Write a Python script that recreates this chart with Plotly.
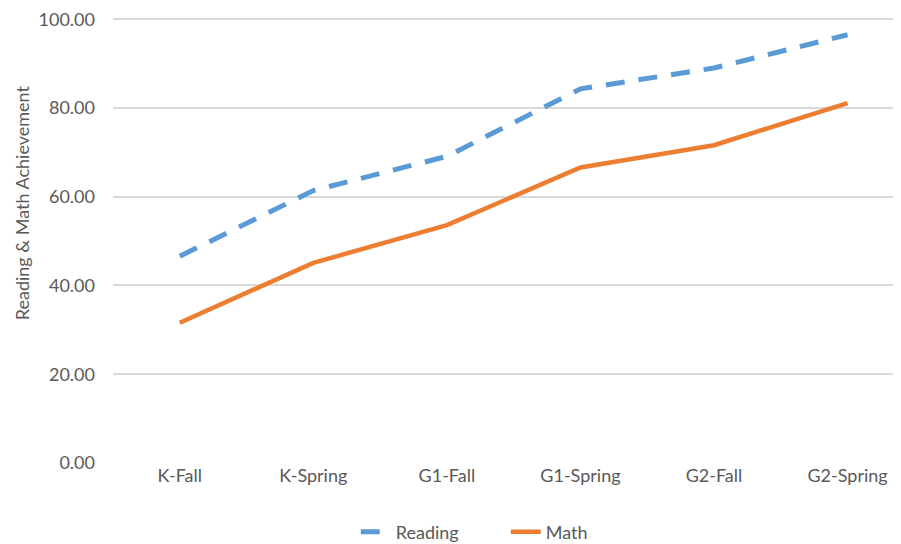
import plotly.graph_objects as go

categories = ["K-Fall", "K-Spring", "G1-Fall", "G1-Spring", "G2-Fall", "G2-Spring"]
reading = [46.6, 61.4, 69.1, 84.3, 89.0, 96.5]
math = [31.6, 45.1, 53.6, 66.6, 71.6, 81.1]
y_ticks = [0, 20, 40, 60, 80, 100]
y_tick_labels = ["0.00", "20.00", "40.00", "60.00", "80.00", "100.00"]
y_title = "Reading & Math Achievement"

fig = go.Figure()
fig.add_trace(go.Scatter(x=categories, y=reading, name="Reading", mode="lines",
                         line=dict(color="#5B9BD5", width=5, dash="19px,14px")))
fig.add_trace(go.Scatter(x=categories, y=math, name="Math", mode="lines",
                         line=dict(color="#ED7D31", width=4.5)))

font = "Lato, 'Open Sans', sans-serif"
fig.update_layout(
    width=901, height=544,
    margin=dict(l=105, r=0, t=6, b=89),
    paper_bgcolor="white", plot_bgcolor="white",
    font=dict(family=font, color="#595959", size=18),
    showlegend=True,
    legend=dict(orientation="h", x=0.305, xanchor="left", y=-0.155, yanchor="middle",
                font=dict(size=18, color="#595959"), tracegroupgap=0,
                entrywidth=105, entrywidthmode="pixels"),
    xaxis=dict(type="category", range=[-0.5, 5.46], showgrid=False, showline=False,
               ticks="", tickfont=dict(size=18, color="#595959")),
    yaxis=dict(range=[0, 100.5], tickvals=y_ticks, ticktext=y_tick_labels,
               showgrid=True, gridcolor="#D9D9D9", gridwidth=1.5, zeroline=False,
               showline=False, ticks="", ticklabelstandoff=17,
               ticklabeloverflow="allow",
               tickfont=dict(size=18, color="#595959")),
    annotations=[dict(text=y_title, textangle=-90, xref="paper", yref="paper",
                      x=-0.114, y=0.583, xanchor="center", yanchor="middle",
                      showarrow=False, font=dict(size=18, color="#595959"))],
)
fig.write_html("out.html")
